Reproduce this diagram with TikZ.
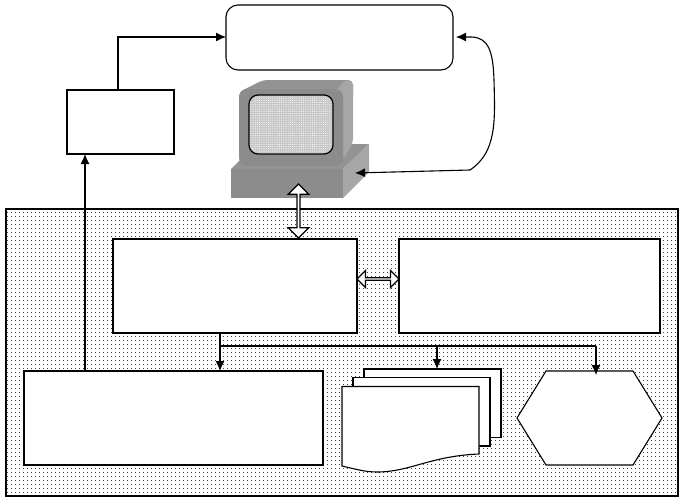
\documentclass[tikz,border=0pt]{standalone}
\usetikzlibrary{arrows.meta,patterns.meta,shapes.arrows}
\tikzset{
  plainbox/.style={draw,fill=white,line width=1.1pt,inner sep=0pt,outer sep=0pt},
  bigarrow/.style={draw,fill=white,line width=1.3pt,shape=double arrow,inner sep=0pt,outer sep=0pt,
    double arrow head indent=0pt},
  stipple/.style={pattern={Dots[distance=4pt,radius=0.6pt]},pattern color=black},
  link/.style={line width=1.1pt,-{Latex[length=10pt,width=9pt]}}
}
\begin{document}
\begin{tikzpicture}[x=1pt,y=-1pt]
  \useasboundingbox (0,0) rectangle (682,503);
  % panel
  \fill[white] (6,209) rectangle (678,496);
  \draw[line width=1.1pt,stipple] (6,209) rectangle (678,496);
  % boxes
  \node[plainbox,rounded corners=12pt,minimum width=227pt,minimum height=65pt] (station) at (339.5,37.5) {};
  \node[plainbox,minimum width=107pt,minimum height=64pt] (unit) at (120.5,122) {};
  \node[plainbox,minimum width=244pt,minimum height=94pt] (control) at (235,286) {};
  \node[plainbox,minimum width=261pt,minimum height=94pt] (memory) at (529.5,286) {};
  \node[plainbox,minimum width=299pt,minimum height=94pt] (output) at (173.5,418) {};
  % document stack
  \foreach \x/\y/\i in {364/369/back,353/377.5/mid} {
      \node[plainbox,anchor=north west,minimum width=137pt,minimum height=68.5pt] (\i) at (\x,\y) {};
  }
  \draw[plainbox] (342,386.5) -- (479,386.5) -- (479,454)
      .. controls (430,456) and (410,472) .. (377,472)
      .. controls (365,472) and (355,469) .. (342,466) -- cycle;
  % hexagon
  \draw[plainbox] (517,418) -- (546,371) -- (633,371) -- (662,418) -- (633,465) -- (546,465) -- cycle;
  \coordinate (hexTop) at (596,375);
  % monitor
  \fill[gray!85!white] (231,169) -- (256,144) -- (369,144) -- (343,169) -- cycle;
  \fill[gray!70!white] (343,169) -- (369,144) -- (369,172) -- (343,198) -- cycle;
  \fill[gray!90!white] (231,169) rectangle (343,198);
  \fill[gray!85!white,rounded corners=5pt] (239,92) -- (263,80) -- (353,80) -- (353,100) -- (343,100) -- (239,100) -- cycle;
  \fill[gray!70!white,rounded corners=5pt] (335,92) -- (345,80) -- (353,80) -- (353,143) -- (343,160) -- (335,160) -- cycle;
  \fill[gray!90!white,rounded corners=8pt] (239,89) rectangle (343,166);
  \draw[line width=1.2pt,fill=gray!45,rounded corners=9pt] (249,95) rectangle (333,154);
  \fill[pattern={Dots[distance=2.2pt,radius=0.55pt]},pattern color=white,rounded corners=9pt] (250,96) rectangle (332,153);
  % double arrows
  \node[bigarrow,rotate=90,minimum height=54pt,minimum width=20.5pt,double arrow head extend=4pt] (bus) at (298.5,211) {};
  \node[bigarrow,minimum height=42pt,minimum width=17pt,double arrow head extend=3.5pt] (link) at (378,279) {};
  % connectors
  \coordinate (tapA) at (85,371);
  \coordinate (tapB) at (85,154);
  \coordinate (tapC) at (118,90);
  \coordinate (tapD) at (226,37);
  \draw[link] (tapA) -- (tapB);
  \draw[link] (tapC) |- (tapD);
  \coordinate (curveEnd) at (456,37);
  \coordinate (baseEnd) at (355,173);
  \draw[{Latex[length=10pt,width=9pt]}-{Latex[length=10pt,width=9pt]},line width=1.1pt] (curveEnd) -- (472,37)
      .. controls (488,38) and (493,50) .. (494,80)
      .. controls (495,120) and (497,152) .. (470,170)
      -- (baseEnd);
  \coordinate (ctlOut) at (220,333);
  \coordinate (fork) at (220,346);
  \draw[link] (ctlOut) -- (220,371);
  \draw[line width=1.1pt] (fork) -- (596,346);
  \draw[link] (437,346) -- (437,369);
  \draw[link] (596,346) -- (hexTop);
\end{tikzpicture}
\end{document}
